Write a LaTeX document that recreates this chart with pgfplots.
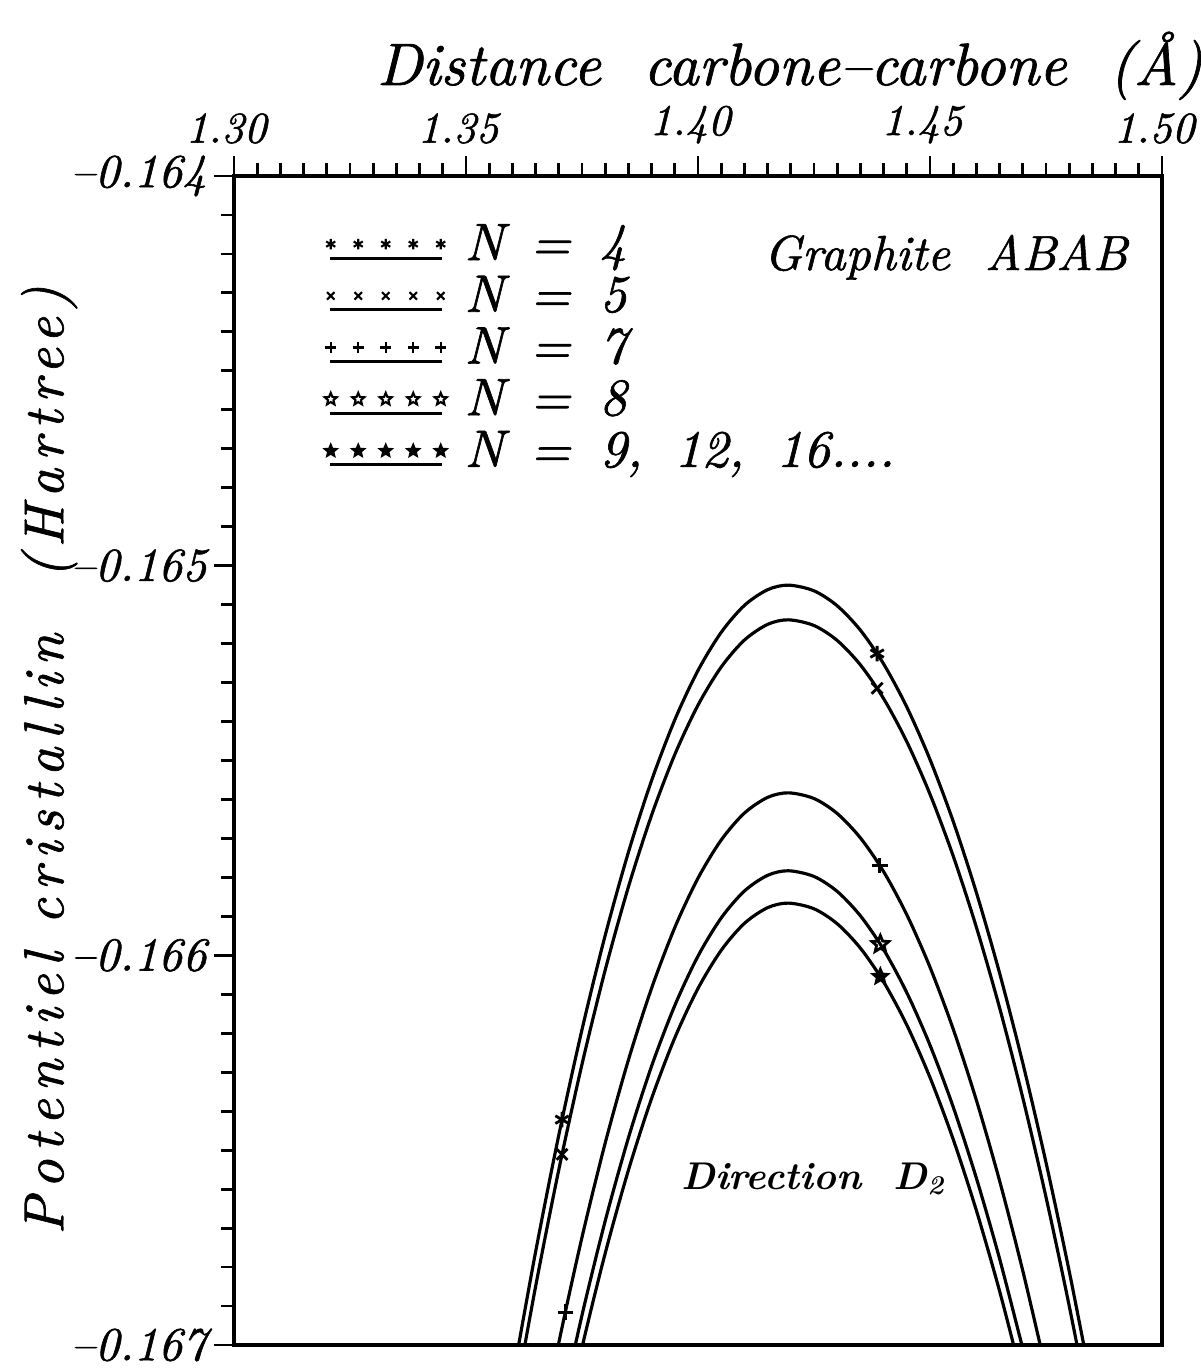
\documentclass[border=0pt]{standalone}
\usepackage{fontspec}
\setmainfont{lmroman10-regular}[Extension=.otf, ItalicFont=lmroman10-italic, BoldFont=lmroman10-bold, BoldItalicFont=lmroman10-bolditalic, ItalicFeatures={FakeBold=1.2}]
\newfontfamily\spacedit{lmroman10-italic}[Extension=.otf, LetterSpace=14, FakeBold=1.2]
\newfontfamily\xlabit{lmroman10-italic}[Extension=.otf, FakeBold=1.2]
\usepackage{pgfplots}
\usepackage{pgfplotstable}
\pgfplotsset{compat=1.18}
\usetikzlibrary{plotmarks}

\pgfdeclareplotmark{ostar}{%
  \pgfpathmoveto{\pgfpointpolar{90}{\pgfplotmarksize}}%
  \pgfpathlineto{\pgfpointpolar{126}{0.45\pgfplotmarksize}}%
  \pgfpathlineto{\pgfpointpolar{162}{\pgfplotmarksize}}%
  \pgfpathlineto{\pgfpointpolar{198}{0.45\pgfplotmarksize}}%
  \pgfpathlineto{\pgfpointpolar{234}{\pgfplotmarksize}}%
  \pgfpathlineto{\pgfpointpolar{270}{0.45\pgfplotmarksize}}%
  \pgfpathlineto{\pgfpointpolar{306}{\pgfplotmarksize}}%
  \pgfpathlineto{\pgfpointpolar{342}{0.45\pgfplotmarksize}}%
  \pgfpathlineto{\pgfpointpolar{18}{\pgfplotmarksize}}%
  \pgfpathlineto{\pgfpointpolar{54}{0.45\pgfplotmarksize}}%
  \pgfpathclose
  \pgfusepathqstroke
}
\pgfdeclareplotmark{fstar}{%
  \pgfpathmoveto{\pgfpointpolar{90}{\pgfplotmarksize}}%
  \pgfpathlineto{\pgfpointpolar{126}{0.45\pgfplotmarksize}}%
  \pgfpathlineto{\pgfpointpolar{162}{\pgfplotmarksize}}%
  \pgfpathlineto{\pgfpointpolar{198}{0.45\pgfplotmarksize}}%
  \pgfpathlineto{\pgfpointpolar{234}{\pgfplotmarksize}}%
  \pgfpathlineto{\pgfpointpolar{270}{0.45\pgfplotmarksize}}%
  \pgfpathlineto{\pgfpointpolar{306}{\pgfplotmarksize}}%
  \pgfpathlineto{\pgfpointpolar{342}{0.45\pgfplotmarksize}}%
  \pgfpathlineto{\pgfpointpolar{18}{\pgfplotmarksize}}%
  \pgfpathlineto{\pgfpointpolar{54}{0.45\pgfplotmarksize}}%
  \pgfpathclose
  \pgfusepathqfillstroke
}

\pgfplotstableread{
x y
1.360 -0.1670892
1.365 -0.1667609
1.370 -0.1664613
1.375 -0.1661906
1.380 -0.1659487
1.385 -0.1657356
1.390 -0.1655513
1.395 -0.1653957
1.400 -0.1652690
1.405 -0.1651711
1.410 -0.1651020
1.415 -0.1650617
1.4195 -0.1650500
1.425 -0.1650646
1.430 -0.1651030
1.435 -0.1651656
1.440 -0.1652521
1.445 -0.1653628
1.450 -0.1654975
1.455 -0.1656562
1.460 -0.1658390
1.465 -0.1660458
1.470 -0.1662767
1.475 -0.1665316
1.480 -0.1668106
1.485 -0.1671136
}\curveA

\pgfplotstableread{
x y
1.360 -0.1671782
1.365 -0.1668499
1.370 -0.1665503
1.375 -0.1662796
1.380 -0.1660377
1.385 -0.1658246
1.390 -0.1656403
1.395 -0.1654847
1.400 -0.1653580
1.405 -0.1652601
1.410 -0.1651910
1.415 -0.1651507
1.4195 -0.1651390
1.425 -0.1651536
1.430 -0.1651920
1.435 -0.1652546
1.440 -0.1653411
1.445 -0.1654518
1.450 -0.1655865
1.455 -0.1657452
1.460 -0.1659280
1.465 -0.1661348
1.470 -0.1663657
1.475 -0.1666206
1.480 -0.1668996
1.485 -0.1672026
}\curveB

\pgfplotstableread{
x y
1.365 -0.1672939
1.370 -0.1669943
1.375 -0.1667236
1.380 -0.1664817
1.385 -0.1662686
1.390 -0.1660843
1.395 -0.1659287
1.400 -0.1658020
1.405 -0.1657041
1.410 -0.1656350
1.415 -0.1655947
1.4195 -0.1655830
1.425 -0.1655976
1.430 -0.1656360
1.435 -0.1656986
1.440 -0.1657851
1.445 -0.1658958
1.450 -0.1660305
1.455 -0.1661892
1.460 -0.1663720
1.465 -0.1665788
1.470 -0.1668097
1.475 -0.1670646
}\curveC

\pgfplotstableread{
x y
1.370 -0.1671943
1.375 -0.1669236
1.380 -0.1666817
1.385 -0.1664686
1.390 -0.1662843
1.395 -0.1661287
1.400 -0.1660020
1.405 -0.1659041
1.410 -0.1658350
1.415 -0.1657947
1.4195 -0.1657830
1.425 -0.1657976
1.430 -0.1658360
1.435 -0.1658986
1.440 -0.1659851
1.445 -0.1660958
1.450 -0.1662305
1.455 -0.1663892
1.460 -0.1665720
1.465 -0.1667788
1.470 -0.1670097
}\curveD

\pgfplotstableread{
x y
1.370 -0.1672773
1.375 -0.1670066
1.380 -0.1667647
1.385 -0.1665516
1.390 -0.1663673
1.395 -0.1662117
1.400 -0.1660850
1.405 -0.1659871
1.410 -0.1659180
1.415 -0.1658777
1.4195 -0.1658660
1.425 -0.1658806
1.430 -0.1659190
1.435 -0.1659816
1.440 -0.1660681
1.445 -0.1661788
1.450 -0.1663135
1.455 -0.1664722
1.460 -0.1666550
1.465 -0.1668618
1.470 -0.1670927
}\curveE

\begin{document}
\begin{tikzpicture}
\begin{axis}[
  scale only axis,
  width=92.8mm, height=116.9mm,
  xmin=1.30, xmax=1.50, ymin=-0.167, ymax=-0.164,
  xtick={1.30,1.35,1.40,1.45,1.50},
  xticklabels={1.30,1.35,1.40,1.45,1.50},
  ytick={-0.167,-0.166,-0.165,-0.164},
  yticklabels={–0.167,–0.166,–0.165,–0.164},
  minor x tick num=9, minor y tick num=9,
  xtick pos=right, xticklabel pos=right,
  ytick pos=left, yticklabel pos=left,
  tick align=outside,
  major tick length=2mm, minor tick length=1.3mm,
  scaled ticks=false,
  axis line style={line width=1.1pt},
  every tick/.append style={black, line width=0.8pt},
  xticklabel style={font=\fontsize{12.5}{14}\selectfont\itshape, xshift=-0.8mm},
  yticklabel style={font=\fontsize{13.5}{15}\selectfont\itshape, xshift=0.5mm},
  xlabel={\xlabit Distance\ \ carbone\textendash carbone\ \ (Å)},
  xlabel style={font=\fontsize{17}{20}\selectfont, at={(axis description cs:0.599,1)}, anchor=base, yshift=9.1mm},
  ylabel={\spacedit Potentiel\ cristallin\ \ (Hartree)},
  ylabel style={font=\fontsize{16}{18}\selectfont, at={(axis description cs:-0.184,0.5)}, anchor=base},
  legend style={at={(axis description cs:0.097,0.962)}, anchor=north west, draw=none, fill=none,
    font=\fontsize{15}{18}\selectfont\itshape, inner sep=0pt, row sep=0.37mm, column sep=1.5mm,
    nodes={text height=3.6mm, text depth=0.6mm, inner sep=0.3mm}},
  legend cell align=left,
  legend image code/.code={
    \draw[#1, mark=none, line width=0.9pt] (0.3mm,-1.3mm) -- (11.5mm,-1.3mm);
    \draw[#1, line width=0.6pt] plot[only marks] coordinates {(0.4mm,0.1mm)(3.15mm,0.1mm)(5.9mm,0.1mm)(8.65mm,0.1mm)(11.4mm,0.1mm)};
  },
]
\addplot[black, line width=0.9pt, smooth, forget plot] table {\curveA};
\addplot[black, line width=0.9pt, smooth, forget plot] table {\curveB};
\addplot[black, line width=0.9pt, smooth, forget plot] table {\curveC};
\addplot[black, line width=0.9pt, smooth, forget plot] table {\curveD};
\addplot[black, line width=0.9pt, smooth, forget plot] table {\curveE};

\addplot[black, only marks, mark=asterisk, mark size=2.2pt, line width=0.8pt, forget plot] coordinates {(1.4386,-0.1652255) (1.3707,-0.1664217)};
\addplot[black, only marks, mark=x, mark size=2.2pt, line width=0.8pt, forget plot] coordinates {(1.4386,-0.1653145) (1.3707,-0.1665107)};
\addplot[black, only marks, mark=+, mark size=2.2pt, line width=0.8pt, forget plot] coordinates {(1.4392,-0.1657697) (1.3714,-0.1669156)};
\addplot[black, only marks, mark=ostar, mark size=2.5pt, line width=0.8pt, forget plot] coordinates {(1.4393,-0.1659716)};
\addplot[black, only marks, mark=fstar, mark size=2.3pt, line width=0.6pt, forget plot] coordinates {(1.4393,-0.1660546)};

\addlegendimage{black, mark=asterisk, mark size=1.5pt}
\addlegendentry{N\hspace{0.5em}=\hspace{0.55em}4}
\addlegendimage{black, mark=x, mark size=1.5pt}
\addlegendentry{N\hspace{0.5em}=\hspace{0.55em}5}
\addlegendimage{black, mark=+, mark size=1.6pt}
\addlegendentry{N\hspace{0.5em}=\hspace{0.55em}7}
\addlegendimage{black, mark=ostar, mark size=1.8pt}
\addlegendentry{N\hspace{0.5em}=\hspace{0.55em}8}
\addlegendimage{black, mark=fstar, mark size=1.7pt}
\addlegendentry{N\hspace{0.5em}=\hspace{0.55em}9,\hspace{0.6em}12,\hspace{0.6em}16....}

\node[anchor=base, font=\fontsize{14}{17}\selectfont\itshape] at (axis description cs:0.767,0.9196) {Graphite\ \ ABAB};
\node[anchor=base, font=\fontsize{11}{13}\selectfont\bfseries\itshape] at (axis cs:1.4248,-0.16660) {Direction\ \ D\textsubscript{2}};
\end{axis}
\pgfresetboundingbox
\path[use as bounding box] ([shift={(-23.4mm,-2.6mm)}]current axis.south west) rectangle ([shift={(3.9mm,17.6mm)}]current axis.north east);
\end{tikzpicture}
\end{document}
